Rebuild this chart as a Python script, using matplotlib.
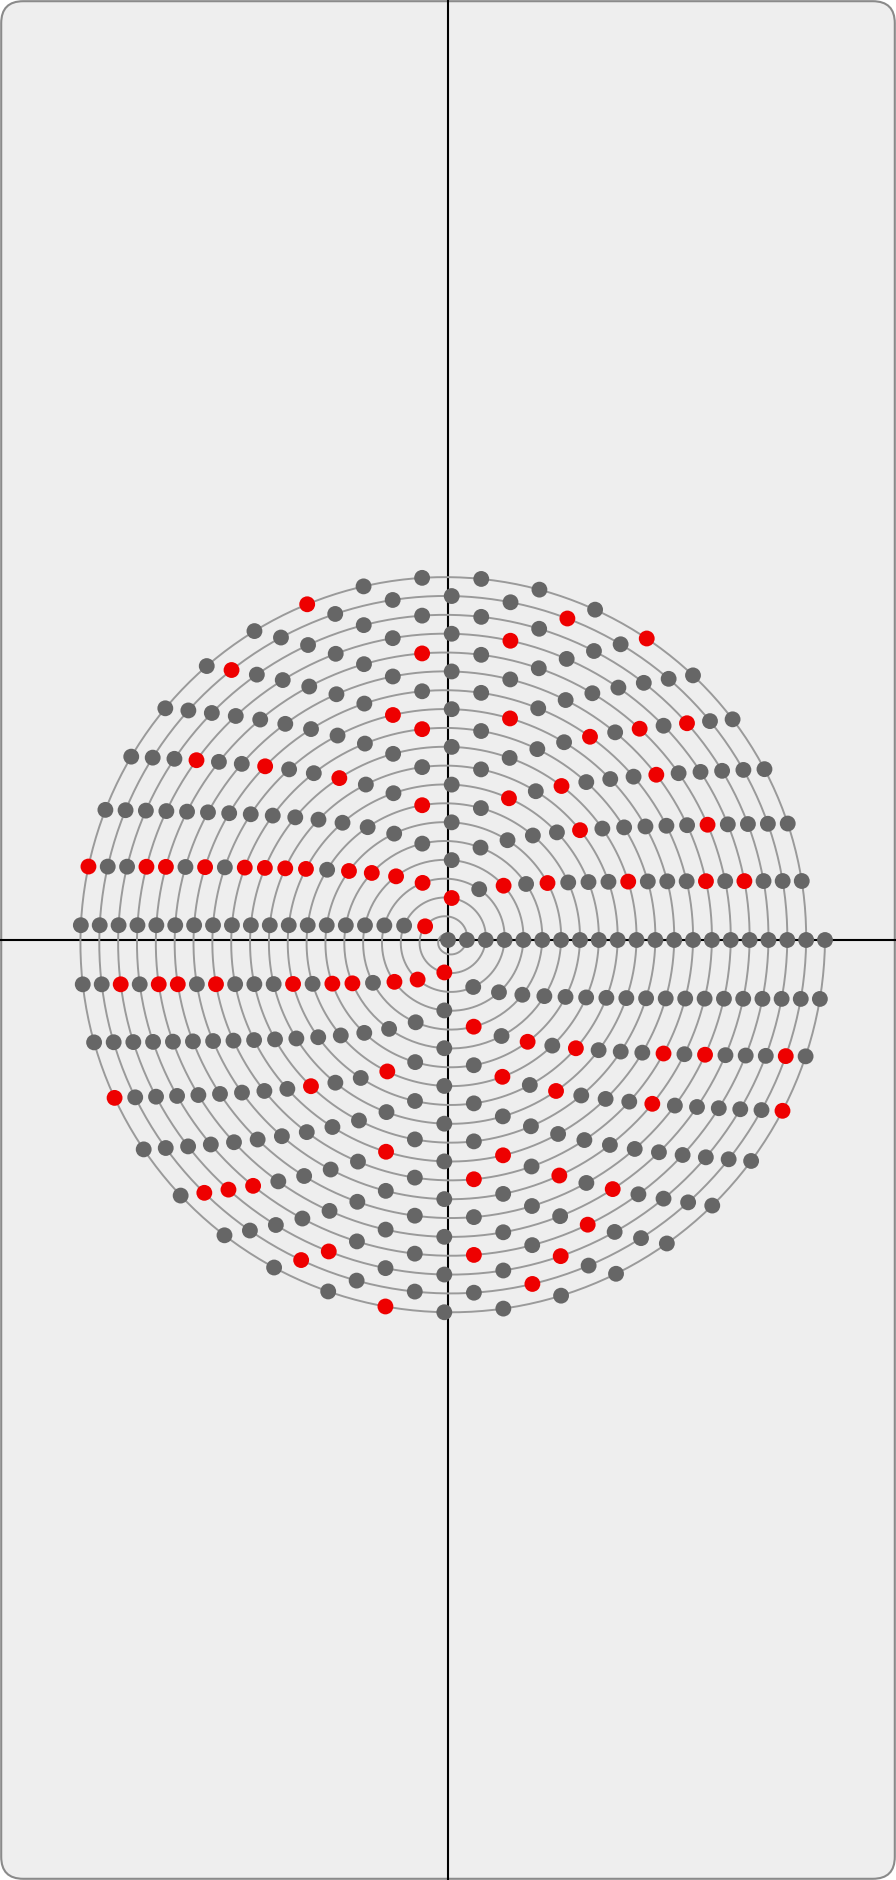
import numpy as np
import matplotlib
matplotlib.use("Agg")
import matplotlib.pyplot as plt
from matplotlib.patches import FancyBboxPatch

# integers placed on the Sacks spiral, and the primes among them (red)
n_max = 400
primes = [2, 3, 5, 7, 11, 13, 17, 19, 23, 29, 31, 37, 41, 43, 47, 53, 59, 61,
          67, 71, 73, 79, 83, 89, 97, 101, 103, 107, 109, 113, 127, 131, 137,
          139, 149, 151, 157, 163, 167, 173, 179, 181, 191, 193, 197, 199, 211,
          223, 227, 229, 233, 239, 241, 251, 257, 263, 269, 271, 277, 281, 283,
          293, 307, 311, 313, 317, 331, 337, 347, 349, 353, 359, 367, 373, 379,
          383, 389, 397]

W, H, DPI = 896, 1880, 100
SCALE = 18.85  # pixels per unit radius

fig = plt.figure(figsize=(W / DPI, H / DPI), dpi=DPI)
fig.patch.set_facecolor("white")
ax = fig.add_axes([0, 0, 1, 1])
ax.set_xlim(-W / 2 / SCALE, W / 2 / SCALE)
ax.set_ylim(-H / 2 / SCALE, H / 2 / SCALE)
ax.set_aspect("equal")
ax.axis("off")

# rounded panel
panel = FancyBboxPatch((0.012, 0.012), W / DPI - 0.024, H / DPI - 0.024,
                       boxstyle="round,pad=0,rounding_size=0.22",
                       transform=fig.dpi_scale_trans, facecolor="#eeeeee",
                       edgecolor="#8a8a8a", linewidth=1.5, zorder=0, clip_on=False)
ax.add_patch(panel)

ax.axhline(0, color="black", lw=1.5, zorder=1)
ax.axvline(0, color="black", lw=1.5, zorder=1)

# spiral guide line r = t, angle = 2*pi*t
t = np.linspace(0, np.sqrt(n_max), 4000)
ax.plot(t * np.cos(2 * np.pi * t), t * np.sin(2 * np.pi * t),
        color="#9a9a9a", lw=1.4, zorder=2)

nums = np.arange(0, n_max + 1)
r = np.sqrt(nums)
x = r * np.cos(2 * np.pi * r)
y = r * np.sin(2 * np.pi * r)
is_prime = np.isin(nums, primes)
colors = np.where(is_prime, "#ee0000", "#666666")
ax.scatter(x, y, s=130, c=colors, linewidths=0, zorder=3)

fig.savefig("out.png", dpi=DPI, facecolor=fig.get_facecolor())
